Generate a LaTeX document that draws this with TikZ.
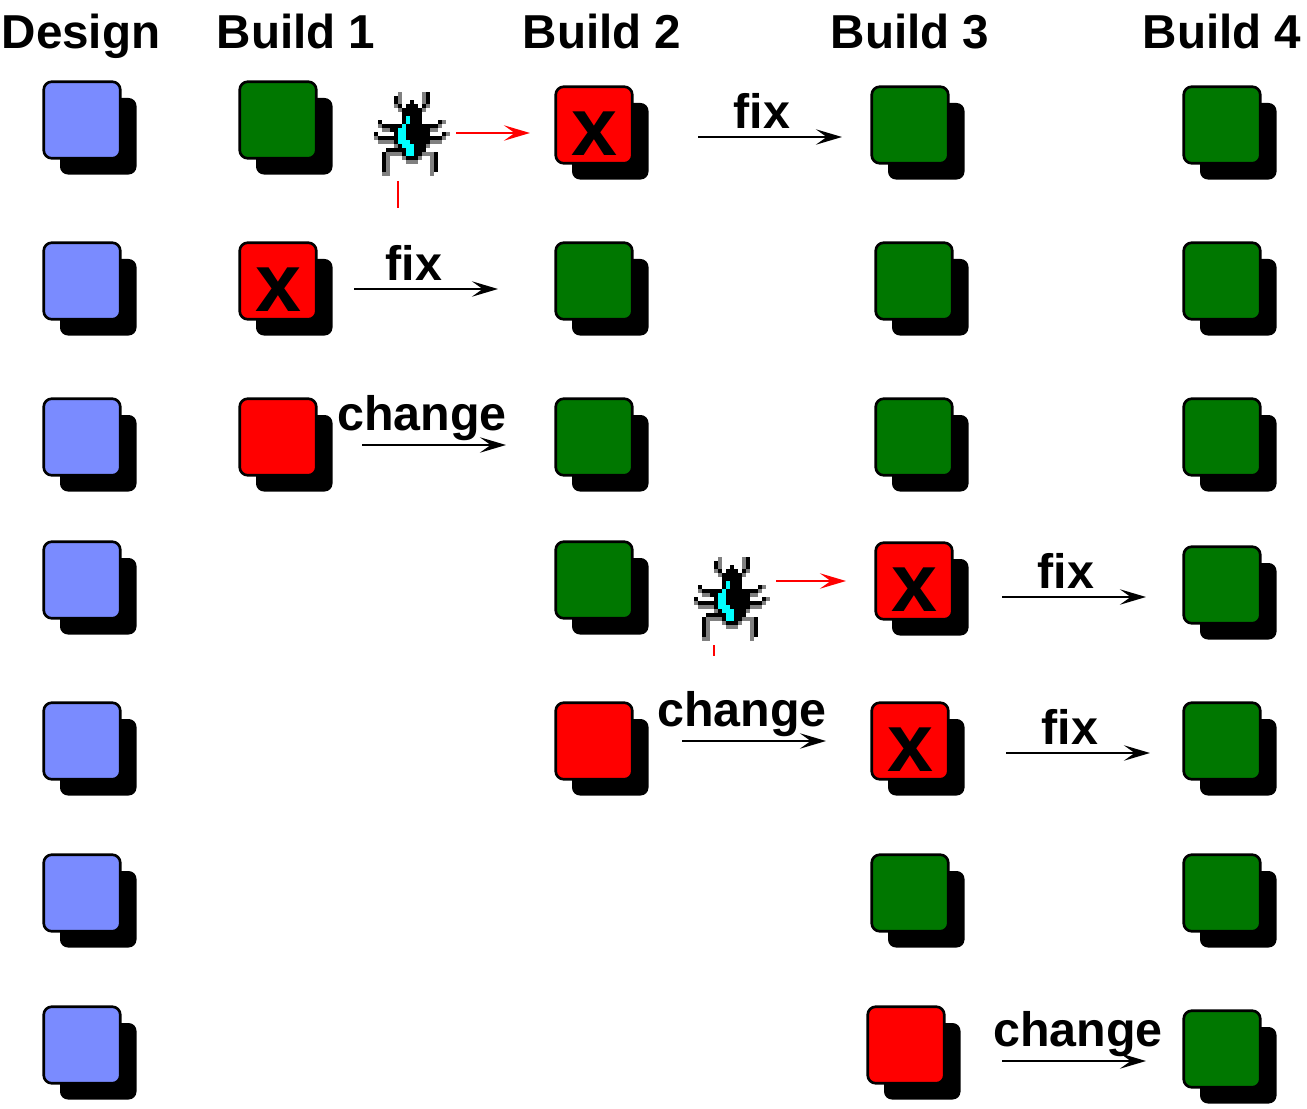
\documentclass[tikz,border=0pt]{standalone}
\usepackage{fontspec}
\setmainfont{Liberation Sans}
\usetikzlibrary{arrows.meta,shadows}
\definecolor{designblue}{RGB}{122,139,255}
\definecolor{passgreen}{RGB}{0,119,0}
\definecolor{bugcyan}{RGB}{0,255,255}
\definecolor{buggray}{RGB}{128,128,128}
\tikzset{
block/.style={rectangle, draw=black, line width=2pt, rounded corners=6pt, minimum size=57.4pt, inner sep=0pt,
  drop shadow={shadow xshift=12.2pt, shadow yshift=-12.2pt, fill=black, draw=none, opacity=1}},
design/.style={block, fill=designblue},
pass/.style={block, fill=passgreen},
fail/.style={block, fill=red},
xmark/.style={font=\fontsize{62}{62}\bfseries\selectfont, inner sep=0pt, yshift=-6.75pt},
heading/.style={font=\fontsize{35.7}{36}\bfseries\selectfont, inner sep=0pt, anchor=base},
word/.style={heading, font=\fontsize{36.3}{37}\bfseries\selectfont},
flow/.style={draw=black, line width=2.1pt, -{Stealth[length=19.5pt, width=11.5pt, inset=8pt]}},
redflow/.style={flow, draw=red, -{Stealth[length=19.5pt, width=11.5pt, inset=8pt, red]}},
bug/.pic={
  \foreach \r/\a/\b in {0/4/4,1/-4/-4,1/4/4,2/-4/-4,2/0/0,2/4/4,3/-3/-3,3/-1/1,3/3/3,4/-2/2,5/-2/2,6/-2/2,
    7/-8/-8,7/-2/2,7/7/7,8/-7/6,9/-5/4,10/-9/-9,10/-4/4,10/8/8,11/-8/7,12/-4/4,13/-3/3,14/-6/3,15/-7/-7,15/-2/2,15/6/6,
    16/-7/-7,16/-1/1,16/6/6,17/-7/-7,17/6/6,18/-7/-7,18/6/6,19/-7/-7,19/6/6}
    {\fill[black] (\a*4-2,\r*4) rectangle (\b*4+2,\r*4+4);}
  \foreach \r/\a/\b in {0/-3/-3,0/3/3,1/-3/-3,1/3/3,2/-3/-3,2/3/3,3/-4/-4,3/4/4,4/-3/-3,4/3/3,7/8/8,8/-8/-8,8/7/7,
    9/-7/-6,9/5/6,10/9/9,11/-9/-9,11/8/8,12/-8/-5,12/5/7,13/-4/-4,13/4/4,15/-6/-3,15/3/5,
    16/-6/-6,16/-2/-2,16/2/2,16/5/5,17/-6/-6,17/-1/1,17/5/5,18/-6/-6,18/5/5,19/-6/-6,19/5/5,20/-7/-6,20/5/5}
    {\fill[buggray] (\a*4-2,\r*4) rectangle (\b*4+2,\r*4+4);}
  \foreach \r/\a/\b in {6/-1/-1,7/-1/-1,8/-2/-2,9/-3/-2,10/-3/-2,11/-3/-2,12/-3/-1,13/-2/0,14/-1/0,15/-1/0}
    {\fill[bugcyan] (\a*4-2,\r*4) rectangle (\b*4+2,\r*4+4);}
}
}
\begin{document}
\begin{tikzpicture}[x=.75pt, y=-.75pt]
\useasboundingbox (0,0) rectangle (1307,1109);
% column titles
\node[heading] (tdesign) at (81,49) {Design};
\node[heading] (tbuilda) at (296,49) {Build 1};
\node[heading] (tbuildb) at (602,49) {Build 2};
\node[heading] (tbuildc) at (910,49) {Build 3};
\node[heading] (tbuildd) at (1222,49) {Build 4};
% design
\node[design] (d1) at (82,120) {};
\node[design] (d2) at (82,281) {};
\node[design] (d3) at (82,437) {};
\node[design] (d4) at (82,580) {};
\node[design] (d5) at (82,741) {};
\node[design] (d6) at (82,893) {};
\node[design] (d7) at (82,1045) {};
% build 1
\node[pass] (a1) at (278,120) {};
\node[fail] (a2) at (278,281) {};
\node[fail] (a3) at (278,437) {};
% build 2
\node[fail] (b1) at (594,125) {};
\node[pass] (b2) at (594,281) {};
\node[pass] (b3) at (594,437) {};
\node[pass] (b4) at (594,580) {};
\node[fail] (b5) at (594,741) {};
% build 3
\node[pass] (c1) at (910,125) {};
\node[pass] (c2) at (914,281) {};
\node[pass] (c3) at (914,437) {};
\node[fail] (c4) at (914,581) {};
\node[fail] (c5) at (910,741) {};
\node[pass] (c6) at (910,893) {};
\node[fail] (c7) at (906,1045) {};
% build 4
\node[pass] (e1) at (1222,125) {};
\node[pass] (e2) at (1222,281) {};
\node[pass] (e3) at (1222,437) {};
\node[pass] (e4) at (1222,585) {};
\node[pass] (e5) at (1222,741) {};
\node[pass] (e6) at (1222,893) {};
\node[pass] (e7) at (1222,1049) {};
% the x marks
\node[xmark] (xa) at (a2) {x};
\node[xmark] (xb) at (b1) {x};
\node[xmark] (xc) at (c4) {x};
\node[xmark] (xd) at (c5) {x};
% bugs
\pic (buga) at (412,91.7) {bug};
\pic (bugb) at (732,556.7) {bug};
\coordinate (rfroma) at (456,133);
\coordinate (rtoa) at (530,133);
\coordinate (rfromb) at (776,581);
\coordinate (rtob) at (846,581);
\coordinate (ticka) at (398,181);
\coordinate (tickb) at (398,208);
\coordinate (tickc) at (714,645);
\coordinate (tickd) at (714,656);
\draw[redflow] (rfroma) -- (rtoa);
\draw[redflow] (rfromb) -- (rtob);
\draw[red, line width=2.1pt] (ticka) -- (tickb);
\draw[red, line width=2.1pt] (tickc) -- (tickd);
% fixes and changes
\coordinate (fa) at (354,289);
\coordinate (fb) at (498,289);
\coordinate (ga) at (362,445);
\coordinate (gb) at (506,445);
\coordinate (ha) at (698,137);
\coordinate (hb) at (842,137);
\coordinate (ia) at (682,741);
\coordinate (ib) at (826,741);
\coordinate (ja) at (1002,597);
\coordinate (jb) at (1146,597);
\coordinate (ka) at (1006,753);
\coordinate (kb) at (1150,753);
\coordinate (la) at (1002,1061);
\coordinate (lb) at (1146,1061);
\draw[flow] (fa) -- (fb);
\draw[flow] (ga) -- (gb);
\draw[flow] (ha) -- (hb);
\draw[flow] (ia) -- (ib);
\draw[flow] (ja) -- (jb);
\draw[flow] (ka) -- (kb);
\draw[flow] (la) -- (lb);
\node[word] (wf) at (414,281) {fix};
\node[word] (wg) at (422,430) {change};
\node[word] (wh) at (762,129) {fix};
\node[word] (wi) at (742,726) {change};
\node[word] (wj) at (1066,588) {fix};
\node[word] (wk) at (1070,744) {fix};
\node[word] (wl) at (1078,1046) {change};
\end{tikzpicture}
\end{document}
